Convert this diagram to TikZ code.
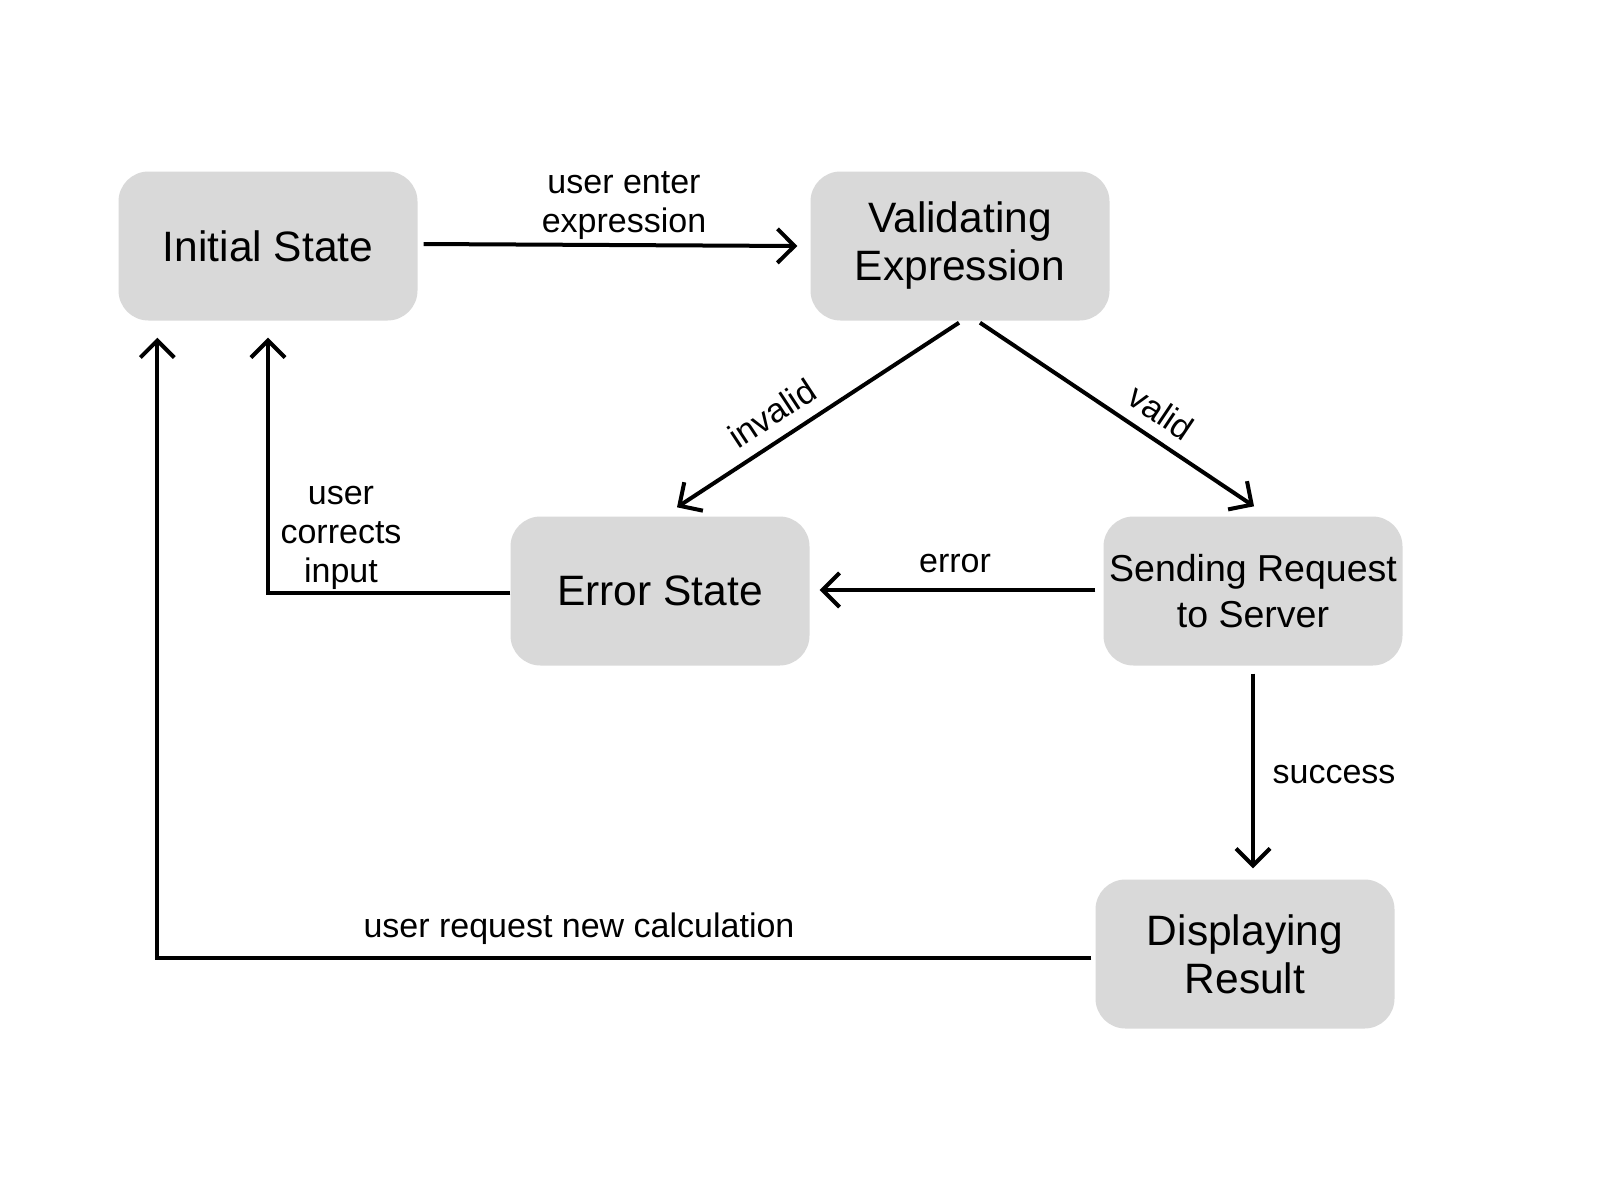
\documentclass[tikz,border=0pt]{standalone}
\usepackage{fontspec}
\setmainfont{Liberation Sans}
\usetikzlibrary{arrows.meta,calc}
\definecolor{boxgray}{HTML}{D9D9D9}
\begin{document}
\begin{tikzpicture}[x=1pt,y=-1pt,
  state/.style={rectangle, rounded corners=30pt, fill=boxgray, minimum width=299pt, minimum height=149pt, align=center, inner sep=0pt, font=\fontsize{42.5}{48}\selectfont},
  conn/.style={line width=4pt, -{Straight Barb[length=17pt,width=34pt]}},
  lbl/.style={font=\fontsize{34}{39}\selectfont, align=center, inner sep=0pt}]
\useasboundingbox (0,0) rectangle (1600,1200);
\fill[white] (0,0) rectangle (1600,1200);
\node[state] (init) at (268,246) {Initial State};
\node[state] (val) at (960,246) {Validating\\Expression};
\node[state] (err) at (660,591) {Error State};
\node[state, font=\fontsize{37.5}{46}\selectfont] (snd) at (1253,591) {Sending Request\\to Server};
\node[state] (disp) at (1245,954) {Displaying\\Result};
% connectors
\draw[conn] ($(init.east)+(6,-2)$) -- ($(val.west)+(-13,0)$);
\node[lbl] (l1) at (624,206) {user enter\\expression};
\draw[conn] ($(val.south)+(-1,2)$) -- ($(err.north)+(17,-9)$);
\node[lbl, rotate=33.3] (l2) at (772,413) {invalid};
\draw[conn] ($(val.south)+(20,2)$) -- ($(snd.north)+(1,-10)$);
\node[lbl, rotate=-33.9] (l3) at (1161,412) {valid};
\draw[conn] ($(snd.west)+(-8,-1)$) -- ($(err.east)+(10,-1)$);
\node[lbl] (l4) at (955,564) {error};
\draw[conn] ($(snd.south)+(0,8)$) -- ($(disp.north)+(8,-11)$);
\node[lbl] (l5) at (1334,775) {success};
\draw[conn] ($(err.west)+(0,2)$) -| ($(init.south)+(0,17)$);
\node[lbl] (l6) at (341,538) {user\\corrects\\input};
\draw[conn] ($(disp.west)+(-4,4)$) -| ($(init.south west)+(39,17)$);
\node[lbl] (l7) at (579,929) {user request new calculation};
\end{tikzpicture}
\end{document}
